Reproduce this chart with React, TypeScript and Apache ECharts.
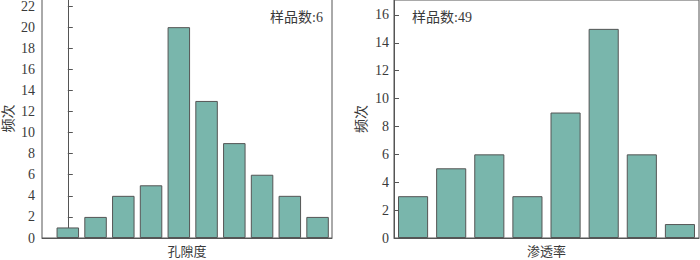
import React, { useEffect, useRef } from "react";
import * as echarts from "echarts";

const poroValues = [1, 2, 4, 5, 20, 13, 9, 6, 4, 2];
const permValues = [3, 5, 6, 3, 9, 15, 6, 1];
const permCategories = ["1", "2", "3", "4", "5", "6", "7", "8"];
const poroTicks = [0, 2, 4, 6, 8, 10, 12, 14, 16, 18, 20, 22];
const permTicks = [0, 2, 4, 6, 8, 10, 12, 14, 16];
const poroLabel = "样品数:6";
const permLabel = "样品数:49";
const yName = "频次";
const poroName = "孔隙度";
const permName = "渗透率";

const FONT = "'Liberation Serif', 'Times New Roman', 'Noto Sans CJK SC', serif";
const TXT = "#3a3a3a";
const LINE = "#555555";
const FILL = "#79b6ac";

export default function App() {
  const ref = useRef<HTMLDivElement>(null);
  useEffect(() => {
    if (!ref.current) return;
    const chart = echarts.init(ref.current, null, { renderer: "svg" });
    const axisLine = { show: true, lineStyle: { color: LINE, width: 1 } };
    const yAxisCommon = (ticks: number[], max: number, gridIndex: number, margin: number, nameGap: number) => ({
      type: "value",
      gridIndex,
      min: 0,
      max,
      axisLine,
      splitLine: { show: false },
      axisTick: { show: true, inside: true, length: 5, lineStyle: { color: LINE }, customValues: ticks },
      axisLabel: { color: TXT, fontFamily: FONT, fontSize: 14, margin, customValues: ticks },
      name: yName,
      nameLocation: "middle",
      nameRotate: 90,
      nameGap,
      nameTextStyle: { color: TXT, fontFamily: FONT, fontSize: 14 },
    });
    const xName = (text: string) => ({
      name: text,
      nameLocation: "middle",
      nameGap: 7,
      nameTextStyle: { color: TXT, fontFamily: FONT, fontSize: 13, verticalAlign: "top" },
    });
    chart.setOption({
      animation: false,
      grid: [
        { left: 42, right: 368, top: -1, bottom: 22, show: true, borderColor: LINE, borderWidth: 1, containLabel: false, outerBoundsMode: "none" },
        { left: 394, right: 1, top: 0, bottom: 22, show: true, borderColor: LINE, borderWidth: 1, containLabel: false, outerBoundsMode: "none" },
      ],
      xAxis: [
        {
          type: "value",
          gridIndex: 0,
          min: -0.93,
          max: 9.52,
          axisLine,
          axisTick: { show: false },
          axisLabel: { show: false },
          splitLine: { show: false },
          ...xName(poroName),
        },
        {
          type: "category",
          gridIndex: 1,
          data: permCategories,
          boundaryGap: true,
          axisLine,
          axisTick: { show: false },
          axisLabel: { show: false },
          splitLine: { show: false },
          ...xName(permName),
        },
      ],
      yAxis: [yAxisCommon(poroTicks, 22.67, 0, 7, 27), yAxisCommon(permTicks, 17.07, 1, 5, 26)],
      series: [
        {
          type: "bar",
          xAxisIndex: 0,
          yAxisIndex: 0,
          barWidth: 22.5,
          data: poroValues.map((v, i) => [i, v]),
          itemStyle: { color: FILL, borderColor: LINE, borderWidth: 1 },
        },
        {
          type: "bar",
          xAxisIndex: 1,
          yAxisIndex: 1,
          barCategoryGap: "21%",
          data: permValues,
          itemStyle: { color: FILL, borderColor: LINE, borderWidth: 1 },
        },
      ],
      graphic: [
        {
          type: "text",
          x: 323,
          y: 17,
          style: { text: poroLabel, fill: TXT, font: `14px ${FONT}`, align: "right", verticalAlign: "middle" },
        },
        {
          type: "text",
          x: 412,
          y: 17,
          style: { text: permLabel, fill: TXT, font: `14px ${FONT}`, align: "left", verticalAlign: "middle" },
        },
      ],
    });
    return () => chart.dispose();
  }, []);
  return <div ref={ref} style={{ position: "fixed", left: 0, top: 0, width: 700, height: 260, background: "#fff" }} />;
}
